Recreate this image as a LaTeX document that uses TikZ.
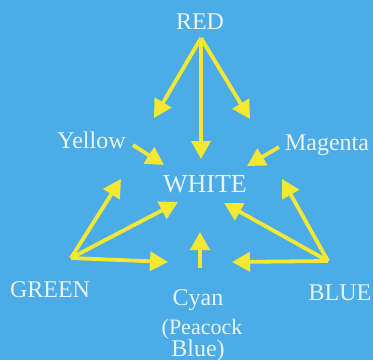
\documentclass[tikz,border=0pt]{standalone}
\usepackage{fontspec}
\setmainfont{Liberation Serif}
\usetikzlibrary{arrows.meta}
\definecolor{bg}{RGB}{76,172,232}
\definecolor{arr}{RGB}{246,232,48}
\definecolor{txt}{RGB}{232,244,244}
\begin{document}
\begin{tikzpicture}[x=1pt,y=-1pt,
  lbl/.style={text=txt,anchor=base,inner sep=0pt,font=\fontsize{24}{26}\selectfont},
  big/.style={lbl,font=\fontsize{26}{28}\selectfont},
  arrw/.style={draw=arr,line width=3.8pt,-{Triangle[length=18pt,width=19pt]}}]
\fill[bg] (0,0) rectangle (373,360);
\useasboundingbox (0,0) rectangle (373,360);
% labels
\node[lbl] (red) at (200,29) {RED};
\node[lbl] (yellow) at (91.5,148) {Yellow};
\node[lbl] (magenta) at (327,150) {Magenta};
\node[big] (white) at (205,192) {WHITE};
\node[lbl] (green) at (50,297) {GREEN};
\node[lbl] (blue) at (340,300) {BLUE};
\node[lbl] (cyan) at (198,305) {Cyan};
\node[lbl,font=\fontsize{22}{24}\selectfont] (peacock) at (202,334) {(Peacock};
\node[lbl] (blueb) at (198,356) {Blue)};
% coordinates
\coordinate (rs) at (201,38);
\coordinate (ry) at (154,118);
\coordinate (rw) at (201,159);
\coordinate (rm) at (250,119);
\coordinate (ys) at (133,145);
\coordinate (yw) at (164,165);
\coordinate (ms) at (279,147);
\coordinate (mw) at (247,166);
\coordinate (gs) at (71,258);
\coordinate (gy) at (121,179);
\coordinate (gw) at (178,202);
\coordinate (gc) at (168,262);
\coordinate (bs) at (328,261);
\coordinate (bm) at (282,179);
\coordinate (bw) at (224,203);
\coordinate (bc) at (232,262);
\coordinate (cs) at (200,268);
\coordinate (cw) at (200,232);
% arrows
\draw[arrw] (rs) -- (ry);
\draw[arrw] (rs) -- (rw);
\draw[arrw] (rs) -- (rm);
\draw[arrw] (ys) -- (yw);
\draw[arrw] (ms) -- (mw);
\draw[arrw] (gs) -- (gy);
\draw[arrw] (gs) -- (gw);
\draw[arrw] (gs) -- (gc);
\draw[arrw] (bs) -- (bm);
\draw[arrw] (bs) -- (bw);
\draw[arrw] (bs) -- (bc);
\draw[arrw] (cs) -- (cw);
\end{tikzpicture}
\end{document}
